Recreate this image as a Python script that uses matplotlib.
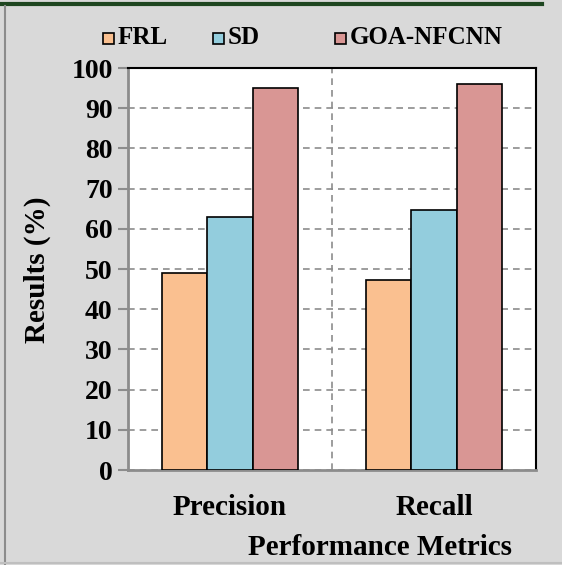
import numpy as np
import matplotlib.pyplot as plt
from matplotlib.lines import Line2D
from matplotlib.patches import Rectangle

metrics = ['Precision', 'Recall']
methods = ['FRL', 'SD', 'GOA-NFCNN']
frl = [49.0, 47.4]
sd = [63.0, 64.8]
goa = [95.0, 96.0]
colors = ['#FAC090', '#93CDDD', '#D99694']

plt.rcParams['font.family'] = ['Liberation Serif', 'DejaVu Serif']
plt.rcParams['font.weight'] = 'bold'

W, H = 562, 565
fig = plt.figure(figsize=(W / 100, H / 100), dpi=100)
fig.patch.set_facecolor('#d9d9d9')
ax = fig.add_axes([0.2278, 0.168, 0.726, 0.7115])

x = np.arange(len(metrics))
w = 0.222
for i, vals in enumerate([frl, sd, goa]):
    ax.bar(x + (i - 1) * w, vals, width=w, color=colors[i], edgecolor='black',
           linewidth=1.2, label=methods[i], zorder=3)

ax.set_xlim(-0.5, 1.5)
ax.set_ylim(0, 100)
ax.set_yticks(range(0, 101, 10))
ax.yaxis.grid(True, linestyle=(0, (4, 3)), color='#8c8c8c', linewidth=1.2, zorder=0)
ax.axvline(0.5, linestyle=(0, (4, 3)), color='#8c8c8c', linewidth=1.2, zorder=0)
ax.set_xticks(x)
ax.set_xticklabels(metrics, fontsize=21, fontweight='bold')
ax.tick_params(axis='x', length=0, pad=17)
ax.tick_params(axis='y', labelsize=20, length=7, width=1.5, color='#8c8c8c', pad=4)
for lab in ax.get_yticklabels():
    lab.set_fontweight('bold')

ax.spines['left'].set_color('#8c8c8c')
ax.spines['bottom'].set_color('#8c8c8c')
ax.spines['left'].set_linewidth(2)
ax.spines['bottom'].set_linewidth(2)
ax.spines['top'].set_linewidth(1.5)
ax.spines['right'].set_linewidth(1.5)

fig.text(0.066, 0.522, 'Results (%)', rotation=90, fontsize=21, fontweight='bold',
         ha='center', va='center')
fig.text(0.676, 0.031, 'Performance Metrics', fontsize=21, fontweight='bold',
         ha='center', va='center')

# legend entries laid out like the original (uneven spacing)
leg_x = [103, 213, 335]
leg_y = 38
sq = 11
for name, c, lx in zip(methods, colors, leg_x):
    fig.add_artist(Rectangle((lx / W, 1 - (leg_y + sq / 2) / H), sq / W, sq / H,
                             facecolor=c, edgecolor='black', linewidth=1.2,
                             transform=fig.transFigure))
    fig.text((lx + sq + 4) / W, 1 - leg_y / H, name, fontsize=18, fontweight='bold',
             ha='left', va='center')

# figure frame lines
fig.add_artist(Line2D([0, 0.965], [0.993, 0.993], color='#1e4620', linewidth=3))
fig.add_artist(Line2D([0.009, 0.009], [0.0, 0.99], color='#8c8c8c', linewidth=1.5))
fig.add_artist(Line2D([0.0, 1.0], [0.003, 0.003], color='#bfbfbf', linewidth=1.5))

fig.savefig('out.png', dpi=100, facecolor=fig.get_facecolor())
